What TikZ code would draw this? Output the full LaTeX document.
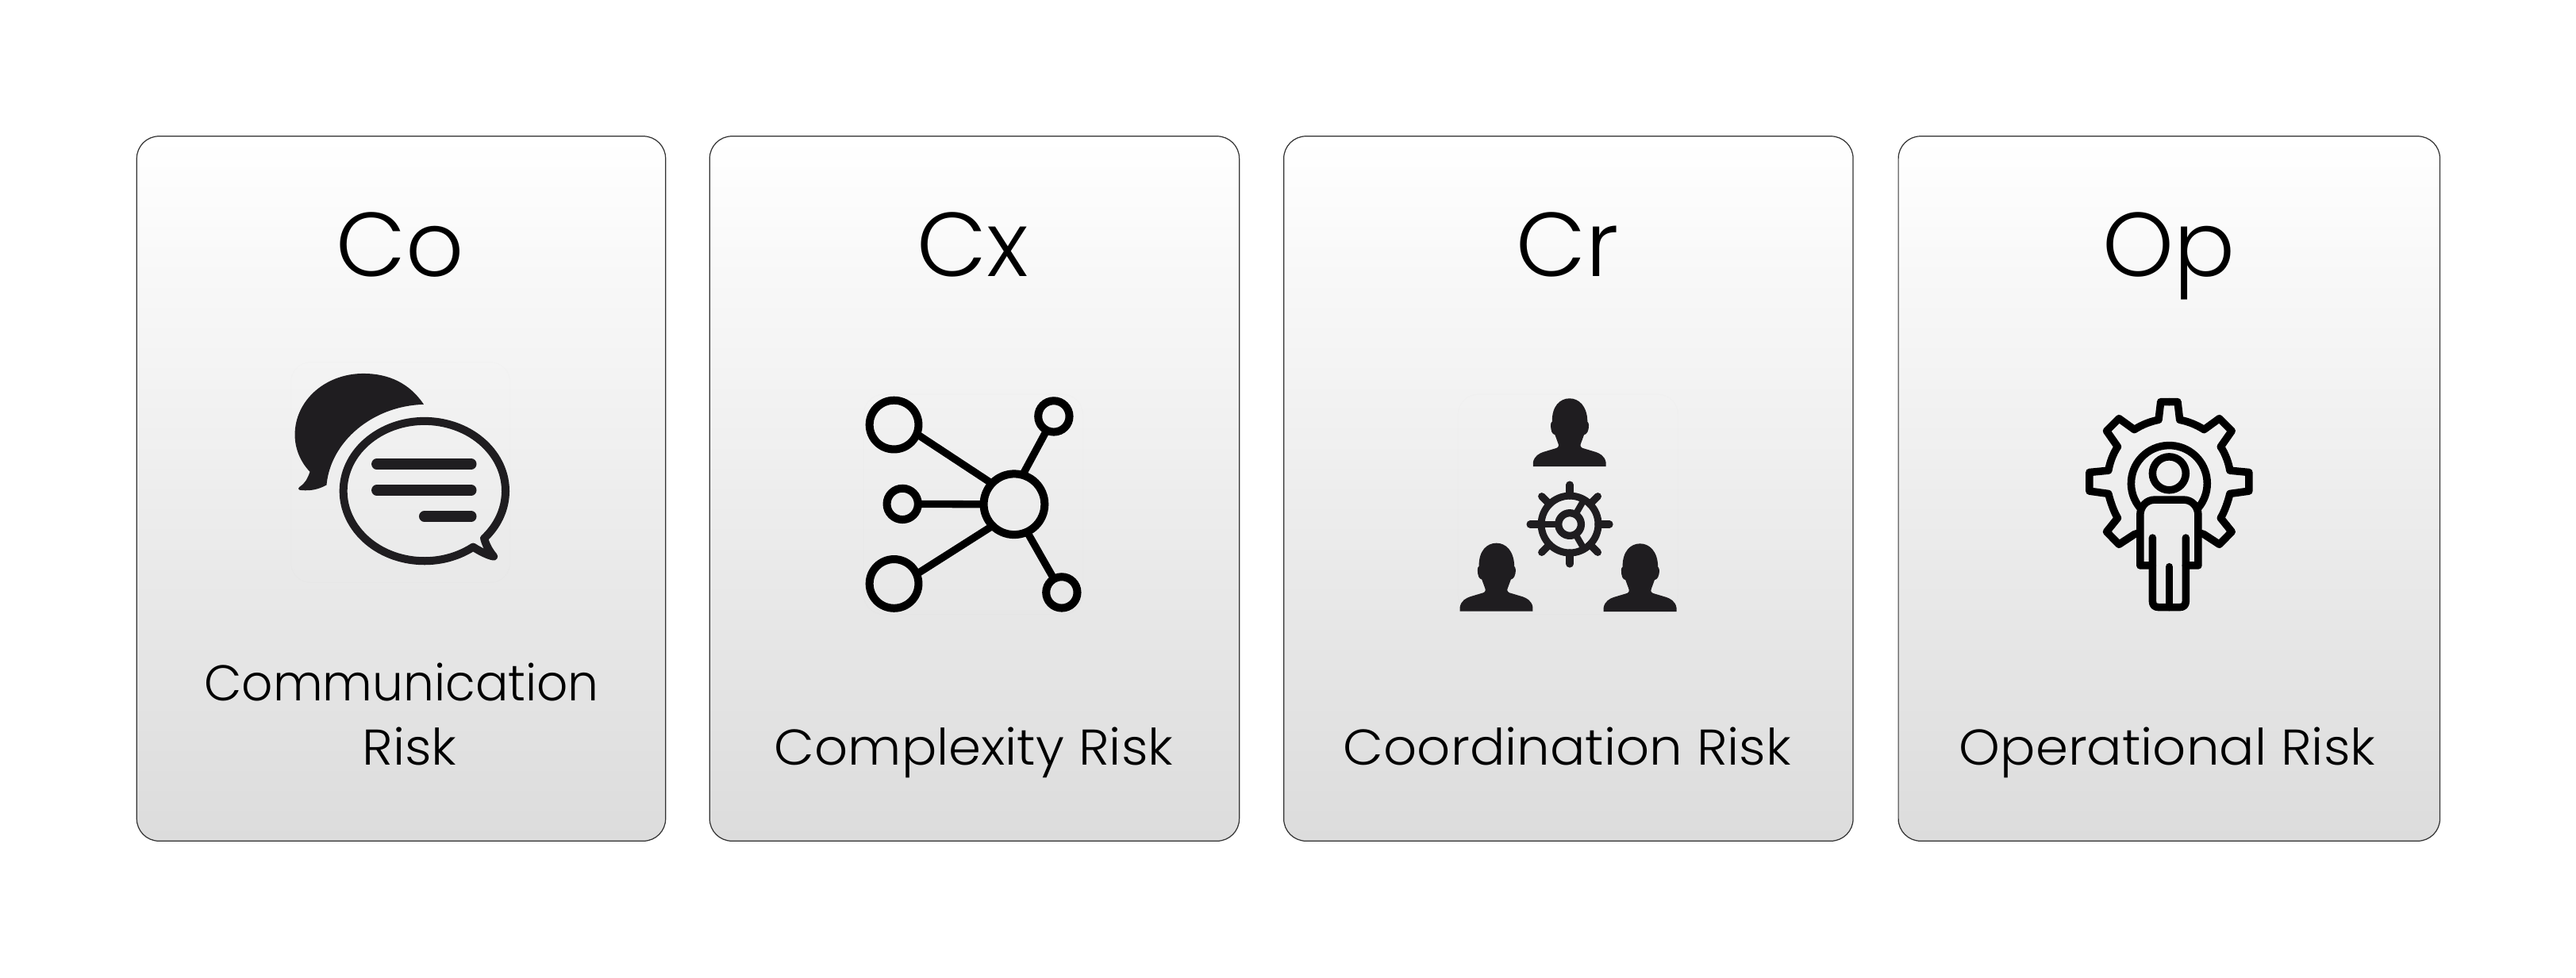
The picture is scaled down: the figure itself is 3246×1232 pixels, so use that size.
\documentclass[tikz,border=0pt]{standalone}
\usepackage{fontspec}
\setmainfont{Poppins Light}
\newfontfamily\wideface{Poppins Light}[FakeStretch=1.04]
\newfontfamily\narrowface{Poppins Light}[FakeStretch=0.97]
\usepackage{tikz}
\definecolor{inkdark}{HTML}{1F1D20}
\definecolor{cardtop}{HTML}{FFFFFF}
\definecolor{cardbot}{HTML}{DCDCDC}
\tikzstyle{card} = [draw=black!80, line width=0.35pt, rectangle, rounded corners=0.28cm,
    top color=cardtop, bottom color=cardbot, inner sep=0pt,
    minimum height=8.88cm]
\tikzstyle{title} = [anchor=base, inner sep=0pt, font=\fontsize{32.5}{40}\selectfont]
\tikzstyle{caption} = [anchor=base, inner sep=0pt, font=\wideface\fontsize{18}{23}\selectfont]
\tikzstyle{narrowcaption} = [caption, font=\narrowface\fontsize{18}{23}\selectfont]
\tikzstyle{zoomed} = [x=0.003333cm, y=-0.003333cm]
\tikzstyle{iconbg} = [draw=black, draw opacity=0.008, line width=0.4pt, rounded corners=0.25cm]
\tikzstyle{stroke} = [draw=black, line width=0.095cm, line join=round, line cap=round]
\tikzstyle{inkstroke} = [draw=inkdark, line width=0.1cm, line join=round, line cap=round]
\tikzstyle{bigdot} = [draw=black, line width=0.1cm, circle, inner sep=0pt, outer sep=0pt, minimum size=0.617cm]
\tikzstyle{smalldot} = [draw=black, line width=0.1cm, circle, inner sep=0pt, outer sep=0pt, minimum size=0.393cm]
\tikzstyle{hubdot} = [draw=black, line width=0.1cm, circle, inner sep=0pt, outer sep=0pt, minimum size=0.767cm]
\tikzstyle{link} = [draw=black, line width=0.093cm]

\begin{document}
\begin{tikzpicture}[x=0.01cm, y=-0.01cm]
\useasboundingbox (0,0) rectangle (3246,1232);

% cards
\node [card, minimum width=6.66cm] (co) at (505.5,616) {};
\node [card, right of=co, node distance=7.22cm, minimum width=6.67cm] (cx) {};
\node [card, right of=cx, node distance=7.48cm, minimum width=7.17cm] (cr) {};
\node [card, right of=cr, node distance=7.565cm, minimum width=6.82cm] (op) {};

% titles and captions
\node [title] (cotitle) at (504,348) {Co};
\node [title] (cxtitle) at (1226,348) {Cx};
\node [title] (crtitle) at (1975,348) {Cr};
\node [title] (optitle) at (2733,348) {Op};
\node [narrowcaption] (cocap1) at (506,883) {Communication};
\node [caption] (cocap2) at (516,964) {Risk};
\node [caption] (cxcap) at (1227,964) {Complexity Risk};
\node [caption] (crcap) at (1975,964) {Coordination Risk};
\node [caption] (opcap) at (2731,964) {Operational Risk};

% speech bubbles
\begin{scope}[shift={(300,420)}, zoomed]
\draw [iconbg] (200,110) rectangle (1030,945);
\fill [inkdark] (703,270) .. controls (650,190) and (570,153) .. (475,153)
  .. controls (330,153) and (215,255) .. (215,385)
  .. controls (215,440) and (238,490) .. (272,525)
  .. controls (262,555) and (250,572) .. (232,583)
  .. controls (225,590) and (230,595) .. (240,595)
  .. controls (275,598) and (305,592) .. (335,575)
  .. controls (350,410) and (510,275) .. (703,270) -- cycle;
\draw [inkstroke] (890,810) arc[start angle=53.1, end angle=402.6, x radius=307, y radius=265]
  .. controls (938,800) and (948,822) .. (968,846)
  .. controls (945,842) and (915,826) .. (890,810) -- cycle;
\draw [inkstroke, line width=0.133cm] (525,496) -- (883,496);
\draw [inkstroke, line width=0.133cm] (525,595) -- (883,595);
\draw [inkstroke, line width=0.133cm] (705,694) -- (883,694);
\end{scope}

% network
\begin{scope}[shift={(1040,470)}, zoomed]
\draw [iconbg] (145,82) rectangle (975,915);
\node [bigdot] (nodea) at (260,197) {};
\node [smalldot] (nodeb) at (865,165) {};
\node [smalldot] (nodec) at (292,497) {};
\node [hubdot] (hub) at (715,498) {};
\node [bigdot] (nodee) at (260,799) {};
\node [smalldot] (nodef) at (895,832) {};
\draw [link] (nodea.-22) -- (hub.137);
\draw [link] (nodeb.243) -- (hub.74);
\draw [link] (nodec.east) -- (hub.west);
\draw [link] (nodee.23) -- (hub.225);
\draw [link] (nodef.120) -- (hub.-65);
\end{scope}

% three people and a wheel
\begin{scope}[shift={(1800,470)}, zoomed]
\draw [iconbg] (112,82) rectangle (945,915);
\foreach \hx/\hy in {534/97, 257/645, 801/647} {
  \fill [inkdark, shift={(\hx,\hy)}] (-138,258) -- (-138,243)
    .. controls (-134,218) and (-114,208) .. (-99,203) -- (-49,188)
    .. controls (-40,183) and (-40,178) .. (-44,168) -- (-55,138)
    .. controls (-66,135) and (-71,125) .. (-71,100)
    .. controls (-71,95) and (-70,90) .. (-66,88)
    .. controls (-67,28) and (-35,0) .. (0,0)
    .. controls (35,0) and (67,28) .. (68,88)
    .. controls (70,90) and (73,95) .. (73,100)
    .. controls (73,125) and (66,135) .. (55,138) -- (44,168)
    .. controls (40,178) and (40,183) .. (49,188) -- (99,203)
    .. controls (114,208) and (134,218) .. (138,243) -- (138,258) -- cycle;
}
\begin{scope}[shift={(535,574)}]
\draw [inkstroke, line width=0.09cm] (0,0) circle [radius=108];
\draw [inkstroke, line width=0.093cm] (0,0) circle [radius=43];
\foreach \a in {0,45,...,315}
  \draw [inkstroke, line width=0.093cm] (\a:108) -- (\a:150);
\foreach \a in {180,60,-60}
  \draw [inkstroke, line width=0.08cm, line cap=butt] (\a:43) -- (\a:108);
\end{scope}
\end{scope}

% person in a gear
\begin{scope}[shift={(2733.33,480)}, zoomed]
\foreach \m in {1,-1} {
  \begin{scope}[xscale=\m]
  \draw [stroke] (0,80) -- (-32,80) -- (-40,148)
    .. controls (-75,155) and (-105,168) .. (-132,185) -- (-190,143) -- (-237,190) -- (-195,250)
    .. controls (-212,275) and (-225,310) .. (-230,340) -- (-302,347) -- (-302,418) -- (-230,428)
    .. controls (-222,460) and (-210,495) .. (-195,520) -- (-237,572) -- (-190,620) -- (-132,582) -- (-120,578);
  \end{scope}
}
\draw [stroke] (-108.7,483.5) arc[start angle=139, end angle=401, radius=144];
\draw [stroke] (0,351) circle [radius=63];
\draw [stroke] (-63,700) -- (-110,700) -- (-110,510) .. controls (-110,475) and (-85,451) .. (-55,451)
  -- (55,451) .. controls (85,451) and (110,475) .. (110,510) -- (110,700) -- (63,700);
\draw [stroke] (-63,595) -- (-63,835) .. controls (-63,850) and (-55,858) .. (-40,858)
  -- (40,858) .. controls (55,858) and (63,850) .. (63,835) -- (63,595);
\draw [stroke] (0,705) -- (0,858);
\end{scope}

\end{tikzpicture}
\end{document}
